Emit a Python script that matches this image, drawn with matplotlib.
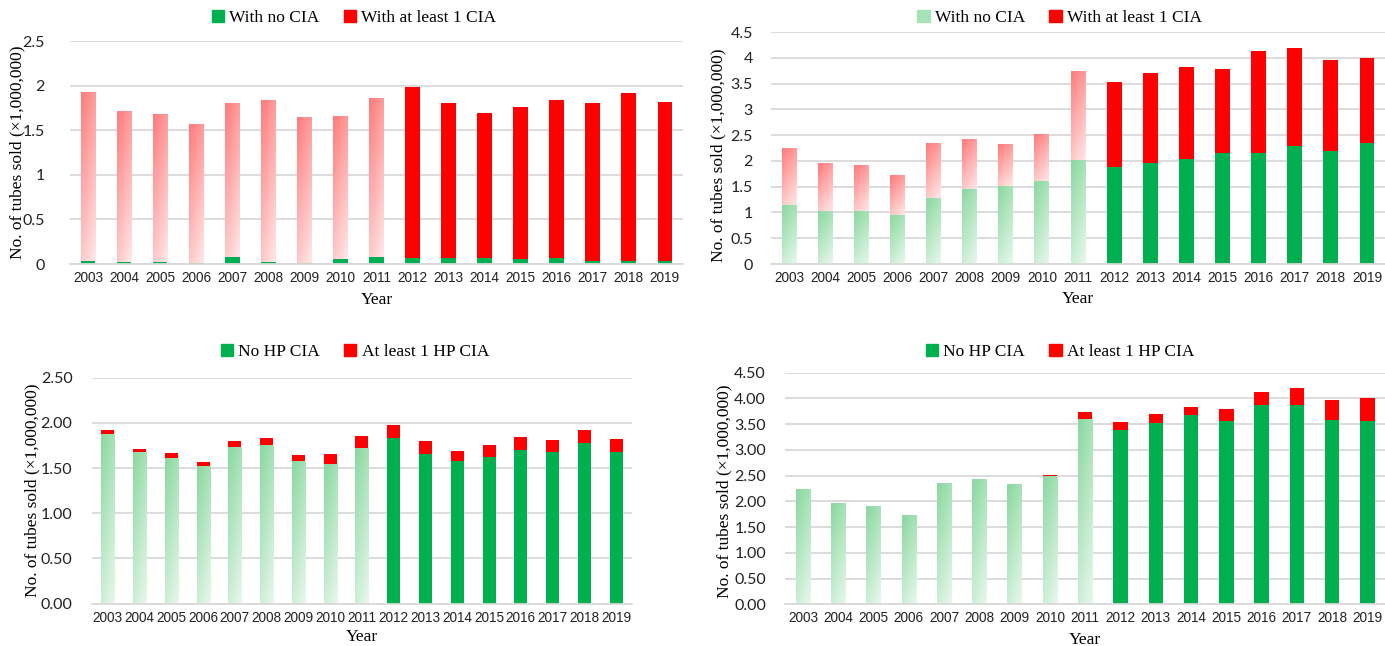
import numpy as np
import matplotlib.pyplot as plt
from matplotlib.colors import LinearSegmentedColormap
from matplotlib.patches import Patch
from matplotlib.ticker import MultipleLocator, FormatStrFormatter

# tubes sold per year, in millions
years = list(range(2003, 2020))

# any CIA (top row)
total_a = [1.92, 1.71, 1.67, 1.57, 1.80, 1.83, 1.64, 1.66, 1.85,
           1.98, 1.80, 1.69, 1.76, 1.84, 1.81, 1.92, 1.82]
no_cia_a = [0.03, 0.025, 0.02, 0.015, 0.08, 0.025, 0.01, 0.06, 0.075,
            0.07, 0.07, 0.063, 0.06, 0.067, 0.034, 0.037, 0.034]
total_b = [2.23, 1.95, 1.90, 1.73, 2.34, 2.42, 2.33, 2.52, 3.73,
           3.54, 3.70, 3.83, 3.79, 4.13, 4.20, 3.96, 4.00]
no_cia_b = [1.14, 1.02, 1.02, 0.96, 1.29, 1.46, 1.52, 1.62, 2.02,
            1.88, 1.96, 2.04, 2.15, 2.15, 2.28, 2.19, 2.35]

# high-priority CIA (bottom row), same totals as above
no_hp_a = [1.88, 1.68, 1.615, 1.52, 1.735, 1.755, 1.575, 1.54, 1.72,
           1.835, 1.655, 1.575, 1.62, 1.705, 1.68, 1.775, 1.68]
no_hp_b = [2.225, 1.945, 1.895, 1.725, 2.335, 2.415, 2.32, 2.48, 3.58,
           3.38, 3.52, 3.68, 3.56, 3.87, 3.87, 3.58, 3.57]

GREEN = "#00b050"
RED = "#ff0000"
GRID = "#d9d9d9"
red_fade = LinearSegmentedColormap.from_list("red_fade", ["#ff7b7b", "#ffe8e8"])
green_fade = LinearSegmentedColormap.from_list("green_fade", ["#8ad89f", "#e8f8ec"])

SERIF = "Liberation Serif"
n_faded = 9  # 2003-2011 drawn with the washed-out gradient

# diagonal ramp, darkest top-left, lightest bottom-right
xx, yy = np.meshgrid(np.linspace(0, 1, 20), np.linspace(0, 1, 80))
ramp = 0.3 * xx + 0.7 * yy


def fade(ax, bars, cmap):
    for b in bars[:n_faded]:
        x0, y0 = b.get_xy()
        w, h = b.get_width(), b.get_height()
        b.set_facecolor("none")
        b.set_edgecolor("none")
        if h <= 0:
            continue
        ax.imshow(ramp, cmap=cmap, extent=(x0, x0 + w, y0, y0 + h), origin="upper",
                  aspect="auto", interpolation="bilinear", zorder=2)


def panel(ax, lower, total, labels, fade_low, fade_up, ymax, fmt, ypad,
          legend_xy, ylab_xy, xlab_xy, low_handle_color=GREEN):
    x = np.arange(len(years))
    upper = np.array(total) - np.array(lower)
    w = 0.41
    b1 = ax.bar(x, lower, w, color=GREEN, zorder=2)
    b2 = ax.bar(x, upper, w, bottom=lower, color=RED, zorder=2)
    if fade_low:
        fade(ax, b1, green_fade)
    if fade_up:
        fade(ax, b2, red_fade)

    ax.set_xlim(-0.5, len(years) - 0.5)
    ax.set_ylim(0, ymax)
    ax.yaxis.set_major_locator(MultipleLocator(0.5))
    ax.yaxis.set_major_formatter(FormatStrFormatter(fmt))
    ax.grid(axis="y", color=GRID, lw=1.3, zorder=0)
    ax.set_axisbelow(True)
    for s in ["top", "right", "left"]:
        ax.spines[s].set_visible(False)
    ax.spines["bottom"].set_color(GRID)
    ax.spines["bottom"].set_linewidth(1.3)

    ax.set_xticks(x, [str(y) for y in years])
    ax.tick_params(axis="x", length=0, pad=5, labelsize=9.8)
    ax.tick_params(axis="y", length=0, pad=ypad, labelsize=11.5)
    for t in ax.get_xticklabels():
        t.set_fontfamily("Liberation Sans")
        t.set_color("#222222")
    for t in ax.get_yticklabels():
        t.set_fontfamily("Lato")
        t.set_color("#222222")

    ax.set_ylabel("No. of tubes sold (×1,000,000)", fontfamily=SERIF, fontsize=12.5)
    ax.yaxis.set_label_coords(*ylab_xy)
    ax.set_xlabel("Year", fontfamily=SERIF, fontsize=12.5)
    ax.xaxis.set_label_coords(*xlab_xy)
    ax.xaxis.label.set_verticalalignment("center")

    handles = [Patch(color=low_handle_color), Patch(color=RED)]
    ax.legend(handles, labels, loc="center", bbox_to_anchor=legend_xy, ncol=2,
              frameon=False, handlelength=0.7, handleheight=0.7,
              handletextpad=0.3, columnspacing=1.4,
              prop={"family": SERIF, "size": 12.5})


fig = plt.figure(figsize=(13.85, 6.46), dpi=100)

ax1 = fig.add_axes([0.0505, 0.5913, 0.4426, 0.3452])
panel(ax1, no_cia_a, total_a, ["With no CIA", "With at least 1 CIA"],
      False, True, 2.5, "%g", 18, (0.463, 1.103), (-0.073, 0.50), (0.5, -0.161))

ax2 = fig.add_axes([0.5567, 0.5913, 0.4433, 0.3591])
panel(ax2, no_cia_b, total_b, ["With no CIA", "With at least 1 CIA"],
      True, True, 4.5, "%g", 13, (0.47, 1.06), (-0.072, 0.47), (0.5, -0.151),
      low_handle_color="#a6e3b6")

ax3 = fig.add_axes([0.0664, 0.0655, 0.3899, 0.3498])
panel(ax3, no_hp_a, total_a, ["No HP CIA", "At least 1 HP CIA"],
      True, False, 2.5, "%.2f", 14, (0.487, 1.112), (-0.096, 0.5), (0.5, -0.147))

ax4 = fig.add_axes([0.5671, 0.0645, 0.4329, 0.3586])
panel(ax4, no_hp_b, total_b, ["No HP CIA", "At least 1 HP CIA"],
      True, False, 4.5, "%.2f", 14, (0.458, 1.089), (-0.089, 0.49), (0.5, -0.155))

fig.savefig("out.png", dpi=100)
